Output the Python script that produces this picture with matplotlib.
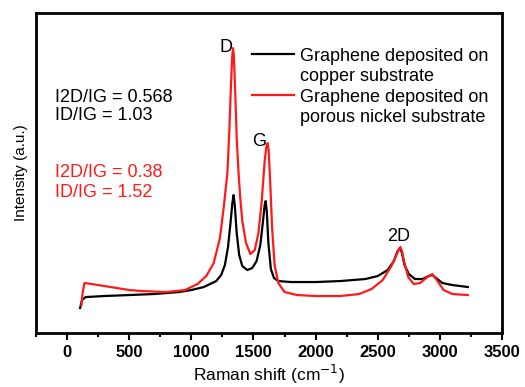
import matplotlib.pyplot as plt
from matplotlib.lines import Line2D
from matplotlib.ticker import MultipleLocator

plt.rcParams['font.family'] = ['Liberation Sans', 'DejaVu Sans']

# Raman spectra (arbitrary intensity units)
cu_shift = [105, 120, 150, 300, 500, 700, 900, 1000, 1100, 1200, 1240, 1270, 1295,
            1315, 1330, 1340, 1350, 1365, 1385, 1410, 1450, 1490, 1525, 1555, 1575,
            1590, 1598, 1607, 1620, 1640, 1665, 1700, 1800, 2000, 2200, 2400, 2500,
            2580, 2630, 2660, 2680, 2695, 2715, 2750, 2800, 2860, 2910, 2940, 2970,
            3020, 3100, 3225]
cu_int = [25, 33, 36, 37, 38, 39, 41, 43, 46, 52, 58, 68, 86,
          110, 130, 138, 127, 100, 78, 67, 63, 65, 72, 88, 110,
          128, 132, 122, 90, 64, 55, 52, 51, 51, 52, 54, 57,
          63, 72, 82, 85, 80, 68, 59, 54, 54, 57, 58, 55,
          50, 48, 46]

ni_shift = [115, 125, 140, 200, 300, 400, 500, 600, 800, 950, 1050, 1120, 1180,
            1230, 1260, 1290, 1305, 1318, 1328, 1335, 1342, 1352, 1365, 1380, 1395,
            1410, 1440, 1475, 1510, 1540, 1565, 1590, 1605, 1613, 1622, 1635, 1650,
            1670, 1700, 1750, 1850, 2000, 2200, 2350, 2450, 2540, 2610, 2650, 2670,
            2682, 2695, 2715, 2745, 2790, 2840, 2900, 2940, 2975, 3030, 3100, 3225]
ni_int = [28, 40, 50, 49, 47, 45, 43, 42, 41, 43, 49, 57, 70,
          95, 125, 160, 200, 245, 275, 285, 278, 245, 195, 160, 133,
          112, 90, 79, 83, 100, 130, 172, 188, 190, 183, 150, 105,
          68, 50, 41, 38, 37, 37, 39, 44, 53, 67, 78, 84,
          86, 82, 70, 56, 49, 50, 56, 59, 53, 43, 39, 38]

legend_lines = ['Graphene deposited on', 'copper substrate',
                'Graphene deposited on', 'porous nickel substrate']

red = '#ff1a1a'

fig = plt.figure(figsize=(5.25, 3.87), dpi=100)
ax = fig.add_axes([0.0686, 0.1395, 0.8876, 0.8265])

ax.plot(cu_shift, cu_int, color='black', linewidth=1.6)
ax.plot(ni_shift, ni_int, color=red, linewidth=1.6)

ax.set_xlim(-250, 3500)
ax.set_ylim(0, 320)
ax.xaxis.set_major_locator(MultipleLocator(500))
ax.xaxis.set_minor_locator(MultipleLocator(250))
ax.set_yticks([])
ax.tick_params(axis='x', which='major', direction='out', length=5, width=1.5, labelsize=12)
ax.tick_params(axis='x', which='minor', direction='out', length=3, width=1.5)
for lbl in ax.get_xticklabels():
    lbl.set_fontweight('bold')
for sp in ax.spines.values():
    sp.set_linewidth(2)

ax.set_xlabel('Raman shift (cm$^{-1}$)', fontsize=12.5, labelpad=2)
ax.set_ylabel('Intensity (a.u.)', fontsize=11, labelpad=6)

# peak labels
ax.text(1280, 286, 'D', fontsize=13, ha='center', va='center')
ax.text(1545, 192, 'G', fontsize=13, ha='center', va='center')
ax.text(2670, 97, '2D', fontsize=13, ha='center', va='center')

# intensity ratios
ax.text(0.041, 0.7375, 'I2D/IG = 0.568', transform=ax.transAxes, fontsize=13, va='center')
ax.text(0.041, 0.68, 'ID/IG = 1.03', transform=ax.transAxes, fontsize=13, va='center')
ax.text(0.041, 0.503, 'I2D/IG = 0.38', transform=ax.transAxes, fontsize=13, va='center', color=red)
ax.text(0.041, 0.44, 'ID/IG = 1.52', transform=ax.transAxes, fontsize=13, va='center', color=red)

# legend: line sample sits next to the first line of each label
handles = [Line2D([], [], color='black', linewidth=1.6),
           Line2D([], [], color='none'),
           Line2D([], [], color=red, linewidth=1.6),
           Line2D([], [], color='none')]
ax.legend(handles, legend_lines, loc='upper left', bbox_to_anchor=(0.4635, 0.892),
          frameon=False, fontsize=13, handlelength=2.3, handletextpad=0.35,
          labelspacing=0.19, borderpad=0, borderaxespad=0)

fig.savefig('out.png', dpi=100)
